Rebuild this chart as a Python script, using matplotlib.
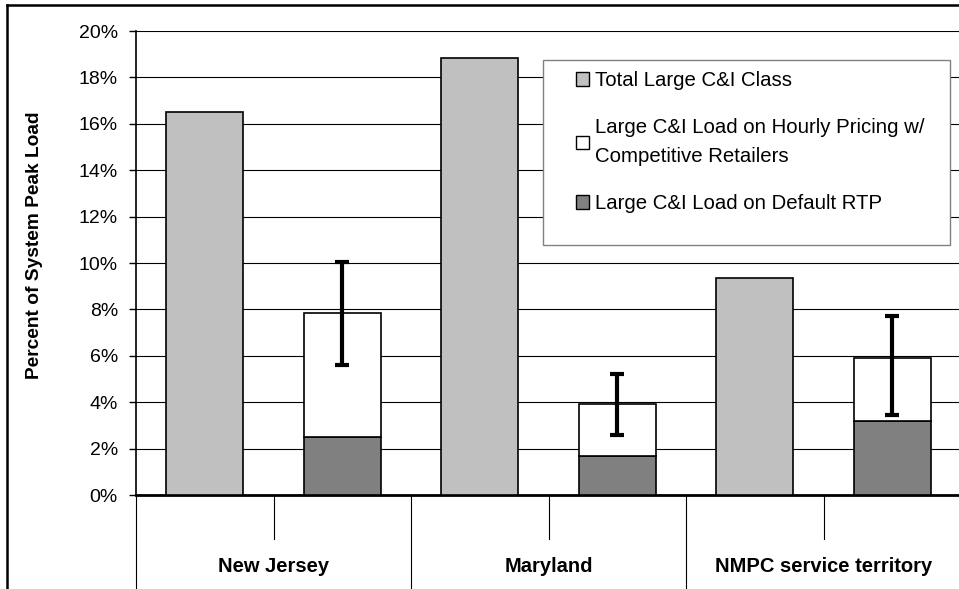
import numpy as np
import matplotlib
matplotlib.use("Agg")
import matplotlib.pyplot as plt
from matplotlib.patches import Patch, Rectangle
from matplotlib.lines import Line2D
import matplotlib.transforms as mtransforms
from matplotlib.ticker import FuncFormatter

plt.rcParams['font.family'] = ['Liberation Sans', 'DejaVu Sans']

# data (percent of system peak load)
groups = ["New Jersey", "Maryland", "NMPC service territory"]
total_class = [16.5, 18.85, 9.37]
default_rtp = [2.49, 1.67, 3.18]
hourly_comp = [5.34, 2.24, 2.71]
err_low = [5.6, 2.59, 3.45]
err_high = [10.06, 5.21, 7.71]
y_ticks = [0, 2, 4, 6, 8, 10, 12, 14, 16, 18, 20]

light = '#c0c0c0'
dark = '#808080'

fig = plt.figure(figsize=(9.59, 5.89), dpi=100)
W, H = 959, 589
ax = fig.add_axes([136 / W, 1 - 495 / H, 825 / W, 464 / H])

idx = np.arange(len(groups))
x_total = idx * 2 + 0.5
x_stack = idx * 2 + 1.5
bw = 0.56

ax.bar(x_total, total_class, bw, color=light, edgecolor='black', lw=1.2, zorder=3)
ax.bar(x_stack, default_rtp, bw, color=dark, edgecolor='black', lw=1.2, zorder=3)
stack_top = np.array(default_rtp) + np.array(hourly_comp)
ax.bar(x_stack, hourly_comp, bw, bottom=default_rtp, color='white',
       edgecolor='black', lw=1.2, zorder=3)

# error bars around the stacked total
yerr = [stack_top - np.array(err_low), np.array(err_high) - stack_top]
ax.errorbar(x_stack, stack_top, yerr=yerr, fmt='none', ecolor='black',
            elinewidth=3, capsize=5, capthick=3, zorder=4)

ax.set_xlim(0, 6)
ax.set_ylim(0, 20)
ax.set_yticks(y_ticks)
ax.yaxis.set_major_formatter(FuncFormatter(lambda v, p: f"{v:.0f}%"))
ax.tick_params(axis='y', length=5, width=1, pad=8, labelsize=14)
ax.set_xticks([])
ax.yaxis.grid(True, color='black', lw=0.8)
ax.set_axisbelow(True)
for s in ['top', 'right']:
    ax.spines[s].set_visible(False)
ax.spines['left'].set_linewidth(1.2)
ax.spines['bottom'].set_linewidth(2)

# two-level category axis below the plot
trans = mtransforms.blended_transform_factory(ax.transData, ax.transAxes)
for gx in [0, 2, 4, 6]:
    ax.plot([gx, gx], [0, -0.21], color='black', lw=0.8, transform=trans, clip_on=False)
for mx in [1, 3, 5]:
    ax.plot([mx, mx], [0, -0.095], color='black', lw=0.8, transform=trans, clip_on=False)
for i, g in enumerate(groups):
    ax.text(i * 2 + 1, -0.155, g, transform=trans, ha='center', va='center',
            fontsize=14.5, fontweight='bold')

fig.text(35 / W, 1 - 245 / H, "Percent of System Peak Load", rotation=90,
         ha='center', va='center', fontsize=13.8, fontweight='bold')

# legend box
box = Rectangle((543 / W, 1 - 245 / H), (950 - 543) / W, (245 - 60) / H,
                transform=fig.transFigure, facecolor='white', edgecolor='#808080',
                lw=1, zorder=5, clip_on=False)
ax.add_patch(box)
handles = [Patch(facecolor=light, edgecolor='black', lw=1),
           Patch(facecolor='white', edgecolor='black', lw=1),
           Patch(facecolor=dark, edgecolor='black', lw=1)]
labels = ["Total Large C&I Class",
          "Large C&I Load on Hourly Pricing w/\nCompetitive Retailers",
          "Large C&I Load on Default RTP"]
leg = ax.legend(handles, labels, loc='upper left',
                bbox_to_anchor=(576 / W, 1 - 71 / H), bbox_transform=fig.transFigure,
                frameon=False, fontsize=14.7, handlelength=0.65, handleheight=0.65,
                handletextpad=0.3, labelspacing=1.38, borderpad=0, borderaxespad=0)
leg.set_zorder(6)
for t in leg.get_texts():
    t.set_linespacing(1.65)

# page frame around the figure
fig.add_artist(Line2D([7 / W, 1], [1 - 5 / H, 1 - 5 / H], color='black', lw=1.8))
fig.add_artist(Line2D([7 / W, 7 / W], [0, 1 - 5 / H], color='black', lw=1.8))

fig.savefig("out.png", dpi=100)
